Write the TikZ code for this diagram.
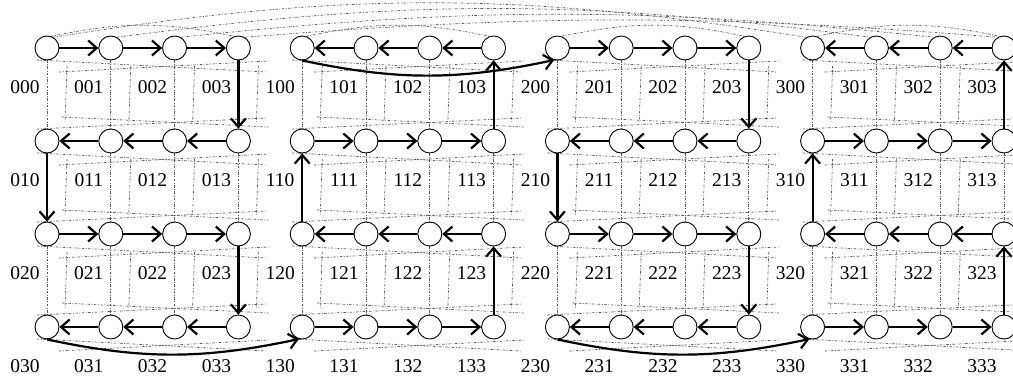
\documentclass[tikz,border=0pt]{standalone}
\usepackage{fontspec}
\setmainfont{Liberation Serif}
\usetikzlibrary{arrows.meta,backgrounds}
\begin{document}
\begin{tikzpicture}[x=1pt,y=1pt,
  vtx/.style={circle,draw,line width=0.9pt,minimum size=24pt,inner sep=0pt,fill=white},
  lbl/.style={font=\fontsize{19.5}{22}\selectfont,inner sep=0pt},
  arr/.style={line width=2.2pt,-{Straight Barb[length=8.5pt,width=15pt,line width=2.2pt]}},
  mesh/.style={black!65,line width=0.7pt,dash pattern=on 2.5pt off 1.6pt on 0.7pt off 1.6pt}]
\useasboundingbox (0,0) rectangle (1013,376);
% nodes and labels
\foreach \a in {0,...,3}{
 \foreach \b in {0,...,3}{
  \foreach \c in {0,...,3}{
   \pgfmathsetmacro\xx{47+63.8*(4*\a+\c)}
   \pgfmathsetmacro\yy{328-93*\b}
   \node[vtx] (n\a\b\c) at (\xx,\yy) {};
   \node[lbl] (l\a\b\c) at (\xx-22,\yy-39) {\a\b\c};
  }}}
% background mesh
\begin{scope}[on background layer]
 \foreach \a in {0,...,3}{
  \pgfmathsetmacro\xa{47+63.8*4*\a}
  \pgfmathsetmacro\xb{\xa+3*63.8}
  \foreach \b in {0,...,3}{
   \pgfmathsetmacro\yy{328-93*\b}
   \draw[mesh] (\xa-10,\yy-12) -- (\xb+28,\yy-24);
   \draw[mesh] (\xa+12,\yy-24) -- (\xb+30,\yy-13);
   \ifnum\b<3
    \pgfmathsetmacro\yn{328-93*(\b+1)}
    \draw[mesh] (\xa-10,\yn+12) -- (\xb+28,\yn+23);
    \draw[mesh] (\xa+15,\yn+24) -- (\xb+30,\yn+14);
    \foreach \c in {0,...,3}{
     \pgfmathsetmacro\xc{\xa+63.8*\c}
     \draw[mesh] (\xc,\yy-12) -- (\xc,\yn+12);
     \draw[mesh] (\xc+20,\yy-18) -- (\xc+18,\yn+18);
    }
   \fi
  }
  \draw[mesh] (n\a00.70) to[out=12,in=168] (n\a03.110);
 }
 \foreach \c/\ang in {0/9,1/7.5,2/6,3/4.5}{
  \draw[mesh] (n00\c.60) to[out=\ang,in=180-\ang] (n30\c.120);
 }
\end{scope}
% horizontal arrows
\foreach \a in {0,...,3}{
 \foreach \b in {0,...,3}{
  \pgfmathtruncatemacro\dir{mod(\a+\b,2)}
  \ifnum\dir=0
   \draw[arr] (n\a\b0) -- (n\a\b1);
   \draw[arr] (n\a\b1) -- (n\a\b2);
   \draw[arr] (n\a\b2) -- (n\a\b3);
  \else
   \draw[arr] (n\a\b3) -- (n\a\b2);
   \draw[arr] (n\a\b2) -- (n\a\b1);
   \draw[arr] (n\a\b1) -- (n\a\b0);
  \fi
 }}
% vertical arrows
\draw[arr] (n003) -- (n013); \draw[arr] (n010) -- (n020); \draw[arr] (n023) -- (n033);
\draw[arr] (n133) -- (n123); \draw[arr] (n120) -- (n110); \draw[arr] (n113) -- (n103);
\draw[arr] (n203) -- (n213); \draw[arr] (n210) -- (n220); \draw[arr] (n223) -- (n233);
\draw[arr] (n333) -- (n323); \draw[arr] (n320) -- (n310); \draw[arr] (n313) -- (n303);
% block-to-block curves
\draw[arr] (n030.south) to[out=-12,in=192] (n130.-105);
\draw[arr] (n100.south) to[out=-12,in=192] (n200.-105);
\draw[arr] (n230.south) to[out=-12,in=192] (n330.-105);
\end{tikzpicture}
\end{document}
